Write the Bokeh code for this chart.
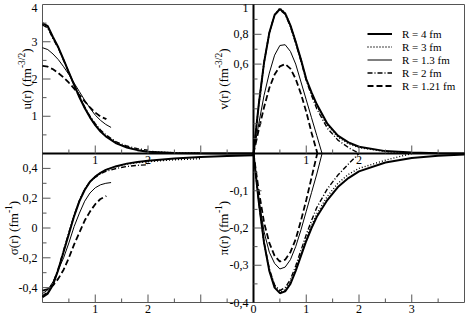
import math
from bokeh.plotting import figure
from bokeh.models import (Range1d, LabelSet, Label, ColumnDataSource,
                          Legend, LegendItem)
from bokeh.core.properties import value
from bokeh.embed import file_html
from bokeh.resources import INLINE

# ---------------- data ----------------
labels = ["R = 4 fm", "R = 3 fm", "R = 1.3 fm", "R = 2 fm", "R = 1.21 fm"]

r_4 = [0, 0.1, 0.2, 0.3, 0.4, 0.5, 0.6, 0.7, 0.8, 0.9, 1.0, 1.1, 1.2, 1.4, 1.6, 1.8, 2.0, 2.5, 3.0, 3.5, 4.0]
u_4 = [3.50, 3.42, 3.12, 2.85, 2.52, 2.18, 1.84, 1.51, 1.22, 0.97, 0.76, 0.59, 0.46, 0.27, 0.16, 0.09, 0.05, 0.015, 0.005, 0.002, 0.0]
v_4 = [0, 0.33, 0.61, 0.81, 0.93, 0.97, 0.94, 0.86, 0.75, 0.63, 0.50, 0.41, 0.33, 0.20, 0.12, 0.075, 0.045, 0.016, 0.006, 0.002, 0.0]
s_4 = [-0.465, -0.44, -0.38, -0.28, -0.16, -0.04, 0.08, 0.18, 0.255, 0.31, 0.345, 0.37, 0.39, 0.415, 0.432, 0.443, 0.452, 0.467, 0.477, 0.484, 0.488]
p_4 = [0, -0.13, -0.24, -0.315, -0.36, -0.375, -0.37, -0.35, -0.315, -0.275, -0.235, -0.2, -0.17, -0.125, -0.09, -0.066, -0.048, -0.024, -0.012, -0.006, -0.003]

r_3 = [0, 0.1, 0.2, 0.3, 0.4, 0.5, 0.6, 0.7, 0.8, 0.9, 1.0, 1.1, 1.2, 1.4, 1.6, 1.8, 2.0, 2.5, 3.0]
u_3 = [3.47, 3.39, 3.10, 2.84, 2.51, 2.17, 1.84, 1.52, 1.23, 0.98, 0.77, 0.60, 0.47, 0.28, 0.17, 0.10, 0.06, 0.02, 0.01]
v_3 = [0, 0.33, 0.61, 0.81, 0.93, 0.975, 0.945, 0.86, 0.75, 0.63, 0.50, 0.40, 0.32, 0.19, 0.11, 0.065, 0.04, 0.012, 0.0]
s_3 = [-0.46, -0.435, -0.375, -0.275, -0.155, -0.035, 0.085, 0.185, 0.26, 0.31, 0.345, 0.37, 0.39, 0.413, 0.428, 0.438, 0.445, 0.458, 0.465]
p_3 = [0, -0.13, -0.24, -0.313, -0.357, -0.372, -0.366, -0.345, -0.31, -0.27, -0.228, -0.193, -0.162, -0.115, -0.08, -0.056, -0.04, -0.018, 0.0]

r_2 = [0, 0.1, 0.2, 0.3, 0.4, 0.5, 0.6, 0.7, 0.8, 0.9, 1.0, 1.1, 1.2, 1.4, 1.6, 1.8, 2.0]
u_2 = [3.45, 3.37, 3.08, 2.83, 2.50, 2.17, 1.84, 1.53, 1.25, 1.00, 0.80, 0.63, 0.50, 0.31, 0.20, 0.13, 0.09]
v_2 = [0, 0.33, 0.61, 0.81, 0.93, 0.965, 0.935, 0.85, 0.74, 0.62, 0.49, 0.39, 0.30, 0.17, 0.09, 0.04, 0.0]
s_2 = [-0.455, -0.43, -0.37, -0.27, -0.15, -0.03, 0.085, 0.185, 0.26, 0.31, 0.34, 0.365, 0.38, 0.40, 0.413, 0.42, 0.425]
p_2 = [0, -0.13, -0.238, -0.31, -0.353, -0.368, -0.36, -0.338, -0.302, -0.26, -0.218, -0.18, -0.145, -0.095, -0.058, -0.028, 0.0]

r_13 = [0, 0.1, 0.2, 0.3, 0.4, 0.5, 0.6, 0.7, 0.8, 0.9, 1.0, 1.1, 1.2, 1.3]
u_13 = [2.84, 2.79, 2.67, 2.52, 2.33, 2.12, 1.89, 1.66, 1.43, 1.22, 1.03, 0.89, 0.78, 0.70]
v_13 = [0, 0.2, 0.39, 0.54, 0.66, 0.725, 0.73, 0.685, 0.60, 0.48, 0.36, 0.24, 0.12, 0.0]
s_13 = [-0.44, -0.415, -0.36, -0.28, -0.2, -0.1, 0.01, 0.10, 0.18, 0.235, 0.27, 0.29, 0.30, 0.305]
p_13 = [0, -0.12, -0.21, -0.265, -0.295, -0.31, -0.305, -0.285, -0.25, -0.205, -0.155, -0.105, -0.055, 0.0]

r_121 = [0, 0.1, 0.2, 0.3, 0.4, 0.5, 0.6, 0.7, 0.8, 0.9, 1.0, 1.1, 1.2, 1.21]
u_121 = [2.35, 2.33, 2.26, 2.16, 2.04, 1.90, 1.74, 1.57, 1.40, 1.24, 1.10, 0.99, 0.93, 0.92]
v_121 = [0, 0.16, 0.31, 0.44, 0.53, 0.585, 0.60, 0.57, 0.50, 0.40, 0.28, 0.14, 0.015, 0.0]
s_121 = [-0.42, -0.41, -0.385, -0.34, -0.28, -0.2, -0.11, -0.03, 0.05, 0.11, 0.16, 0.195, 0.213, 0.215]
p_121 = [0, -0.1, -0.185, -0.24, -0.275, -0.29, -0.285, -0.265, -0.23, -0.18, -0.125, -0.065, -0.005, 0.0]

# axis limits and ticks of the four panels
x_lim = (0, 4)
u_lim = (0, 4)
v_lim = (0, 1)
s_lim = (-0.5, 0.5)
p_lim = (-0.4, 0)

x_major = [1, 2, 3]
x_minor = [0.5, 1.5, 2.5, 3.5]
u_major = [1, 2, 3]
u_minor = [0.5, 1.5, 2.5, 3.5]
v_major = [0.2, 0.4, 0.6, 0.8]
v_minor = [0.1, 0.3, 0.5, 0.7, 0.9]
s_major = [-0.4, -0.2, 0, 0.2, 0.4]
s_minor = [-0.3, -0.1, 0.1, 0.3]
p_major = [-0.1, -0.2, -0.3]
p_minor = [-0.05, -0.15, -0.25, -0.35]

u_tick_vals = [1, 2, 3, 4]
u_tick_text = ["1", "2", "3", "4"]
v_tick_vals = [1, 0.8, 0.6]
v_tick_text = ["1", "0,8", "0,6"]
s_tick_vals = [0.4, 0.2, 0, -0.2, -0.4]
s_tick_text = ["0,4", "0,2", "0", "-0,2", "-0,4"]
p_tick_vals = [-0.1, -0.2, -0.3, -0.4]
p_tick_text = ["-0,1", "-0,2", "-0,3", "-0,4"]
xl_tick_vals = [1, 2]
xl_tick_text = ["1", "2"]
xtr_tick_vals = [1, 2]
xtr_tick_text = ["1", "2"]
xbr_tick_vals = [0, 1, 2, 3]
xbr_tick_text = ["0", "1", "2", "3"]

# ---------------- layout (screen pixels) ----------------
W, H = 466, 315
PL, PM, PR = 42, 253, 464      # panel box: left edge, shared middle, right edge
PT, PC, PB = 4, 153, 302       # top edge, shared middle, bottom edge

FONT = "Liberation Serif"
TICK_FS = "12px"
TITLE_FS = 13
SUP_FS = 9.5
FRAME_COLOR = "#555555"
TOP_LABEL_SHIFT = -3.5   # keep the label at the very top edge inside the picture


def screen_range(v0, s0, v1, s1, size, vertical):
    k = (v1 - v0) / (s1 - s0)
    a = v0 + (0 - s0) * k
    b = v0 + (size - s0) * k
    return Range1d(min(a, b), max(a, b)) if vertical else Range1d(a, b)


p = figure(width=W, height=H, output_backend="svg", toolbar_location=None,
           x_range=Range1d(0, W), y_range=Range1d(0, H),
           x_axis_location=None, y_axis_location=None,
           min_border=0, min_border_left=0, min_border_right=0,
           min_border_top=0, min_border_bottom=0)
p.grid.visible = False
p.outline_line_color = None
p.background_fill_color = "white"
p.border_fill_color = "white"

p.extra_x_ranges = {
    "xl": screen_range(x_lim[0], PL, x_lim[1], PM, W, False),
    "xr": screen_range(x_lim[0], PM, x_lim[1], PR, W, False),
}
p.extra_y_ranges = {
    "yu": screen_range(u_lim[0], PC, u_lim[1], PT, H, True),
    "yv": screen_range(v_lim[0], PC, v_lim[1], PT, H, True),
    "ys": screen_range(s_lim[0], PB, s_lim[1], PC, H, True),
    "yp": screen_range(p_lim[0], PB, p_lim[1], PC, H, True),
}

panels = [("xl", "yu", u_lim), ("xr", "yv", v_lim), ("xl", "ys", s_lim), ("xr", "yp", p_lim)]
for xr, yr, lim in panels:
    p.quad(left=[x_lim[0]], right=[x_lim[1]], bottom=[lim[0]], top=[lim[1]],
           x_range_name=xr, y_range_name=yr, fill_alpha=0,
           line_color=FRAME_COLOR, line_width=1)

styles = [
    dict(line_color="black", line_width=2),
    dict(line_color="black", line_width=1.4, line_dash="1 2"),
    dict(line_color="black", line_width=1),
    dict(line_color="black", line_width=1.4, line_dash="5 2 1 2"),
    dict(line_color="black", line_width=1.8, line_dash="6 3"),
]
series = [
    (r_4, u_4, v_4, s_4, p_4),
    (r_3, u_3, v_3, s_3, p_3),
    (r_13, u_13, v_13, s_13, p_13),
    (r_2, u_2, v_2, s_2, p_2),
    (r_121, u_121, v_121, s_121, p_121),
]

legend_renderers = []
for (r, u, v, s, pi_), st in zip(series, styles):
    p.line(r, u, x_range_name="xl", y_range_name="yu", **st)
    rv = p.line(r, v, x_range_name="xr", y_range_name="yv", **st)
    p.line(r, s, x_range_name="xl", y_range_name="ys", **st)
    p.line(r, pi_, x_range_name="xr", y_range_name="yp", **st)
    legend_renderers.append(rv)

# shared middle axis lines (black, thicker)
p.segment(x0=[x_lim[0]], y0=[u_lim[0]], x1=[x_lim[1]], y1=[u_lim[0]],
          x_range_name="xl", y_range_name="yu", line_color="black", line_width=2)
p.segment(x0=[x_lim[0]], y0=[v_lim[0]], x1=[x_lim[1]], y1=[v_lim[0]],
          x_range_name="xr", y_range_name="yv", line_color="black", line_width=2)
p.segment(x0=[x_lim[0]], y0=[v_lim[0]], x1=[x_lim[0]], y1=[v_lim[1]],
          x_range_name="xr", y_range_name="yv", line_color="black", line_width=2)
p.segment(x0=[x_lim[0]], y0=[p_lim[0]], x1=[x_lim[0]], y1=[p_lim[1]],
          x_range_name="xr", y_range_name="yp", line_color="black", line_width=2)

# ticks (pointing inwards)
def yticks(vals, xr, yr, length):
    p.ray(x=[x_lim[0]] * len(vals), y=vals, length=length, angle=0,
          length_units="screen", x_range_name=xr, y_range_name=yr,
          line_color=FRAME_COLOR, line_width=1)

def xticks(vals, xr, yr, y0, length):
    p.ray(x=vals, y=[y0] * len(vals), length=length, angle=math.pi / 2,
          length_units="screen", x_range_name=xr, y_range_name=yr,
          line_color=FRAME_COLOR, line_width=1)

MAJ, MIN = 8, 4
yticks(u_major, "xl", "yu", MAJ); yticks(u_minor, "xl", "yu", MIN)
yticks(s_major, "xl", "ys", MAJ); yticks(s_minor, "xl", "ys", MIN)
yticks(v_major, "xr", "yv", MAJ); yticks(v_minor, "xr", "yv", MIN)
yticks(p_major, "xr", "yp", MAJ); yticks(p_minor, "xr", "yp", MIN)
xticks(x_major, "xl", "yu", u_lim[0], MAJ); xticks(x_minor, "xl", "yu", u_lim[0], MIN)
xticks(x_major, "xr", "yv", v_lim[0], MAJ); xticks(x_minor, "xr", "yv", v_lim[0], MIN)
xticks(x_major, "xl", "ys", s_lim[0], MAJ); xticks(x_minor, "xl", "ys", s_lim[0], MIN)
xticks(x_major, "xr", "yp", p_lim[0], MAJ); xticks(x_minor, "xr", "yp", p_lim[0], MIN)

# tick labels
def ylabels(vals, texts, xr, yr, top):
    offs = [TOP_LABEL_SHIFT if v == top else 0 for v in vals]
    src = ColumnDataSource(dict(x=[x_lim[0]] * len(vals), y=vals, t=texts, dy=offs))
    p.add_layout(LabelSet(x="x", y="y", text="t", source=src, x_range_name=xr, y_range_name=yr,
                          x_offset=-5, y_offset="dy", text_align="right", text_baseline="middle",
                          text_font=value(FONT), text_font_size=value(TICK_FS), text_color="black"))

def xlabels(vals, texts, xr, yr, y0):
    src = ColumnDataSource(dict(x=vals, y=[y0] * len(vals), t=texts))
    p.add_layout(LabelSet(x="x", y="y", text="t", source=src, x_range_name=xr, y_range_name=yr,
                          y_offset=-2, text_align="center", text_baseline="top",
                          text_font=value(FONT), text_font_size=value(TICK_FS), text_color="black"))

ylabels(u_tick_vals, u_tick_text, "xl", "yu", u_lim[1])
ylabels(s_tick_vals, s_tick_text, "xl", "ys", s_lim[1])
ylabels(v_tick_vals, v_tick_text, "xr", "yv", v_lim[1])
ylabels(p_tick_vals, p_tick_text, "xr", "yp", p_lim[1])
xlabels(xl_tick_vals, xl_tick_text, "xl", "yu", u_lim[0])
xlabels(xtr_tick_vals, xtr_tick_text, "xr", "yv", v_lim[0])
xlabels(xl_tick_vals, xl_tick_text, "xl", "ys", s_lim[0])
xlabels(xbr_tick_vals, xbr_tick_text, "xr", "yp", p_lim[0])

# rotated axis titles with superscripts
def vtitle(main, sup, w_main, w_sup, xr, yr, ymid, dx):
    w_par = 0.333 * TITLE_FS
    total = w_main + w_sup + w_par
    y0 = -total / 2
    common = dict(x=x_lim[0], y=ymid, x_range_name=xr, y_range_name=yr, angle=math.pi / 2,
                  text_align="left", text_baseline="alphabetic", text_font=FONT, text_color="black")
    p.add_layout(Label(text=main, x_offset=dx, y_offset=y0, text_font_size=f"{TITLE_FS}px", **common))
    p.add_layout(Label(text=sup, x_offset=dx - 5, y_offset=y0 + w_main, text_font_size=f"{SUP_FS}px", **common))
    p.add_layout(Label(text=")", x_offset=dx, y_offset=y0 + w_main + w_sup, text_font_size=f"{TITLE_FS}px", **common))

vtitle("u(r) (fm", "-3/2", 3.19 * TITLE_FS, 1.61 * SUP_FS, "xl", "yu", sum(u_lim) / 2, -16)
vtitle("σ(r) (fm", "-1", 3.24 * TITLE_FS, 0.83 * SUP_FS, "xl", "ys", sum(s_lim) / 2, -29)
vtitle("v(r) (fm", "-3/2", 3.19 * TITLE_FS, 1.61 * SUP_FS, "xr", "yv", sum(v_lim) / 2, -30)
vtitle("π(r) (fm", "-1", 3.24 * TITLE_FS, 0.83 * SUP_FS, "xr", "yp", sum(p_lim) / 2, -30)

# legend (location = bottom-left corner of the legend box, from the canvas bottom-left)
items = [LegendItem(label=lab, renderers=[rr]) for lab, rr in zip(labels, legend_renderers)]
legend = Legend(items=items, location=(367, H - 92), glyph_width=25, glyph_height=13,
                label_height=13, label_standoff=10, spacing=0, padding=0, margin=0,
                border_line_color=None, background_fill_alpha=0,
                label_text_font=FONT, label_text_font_size="11px", label_text_color="black")
p.add_layout(legend)

open("out.html", "w").write(file_html(p, INLINE))
